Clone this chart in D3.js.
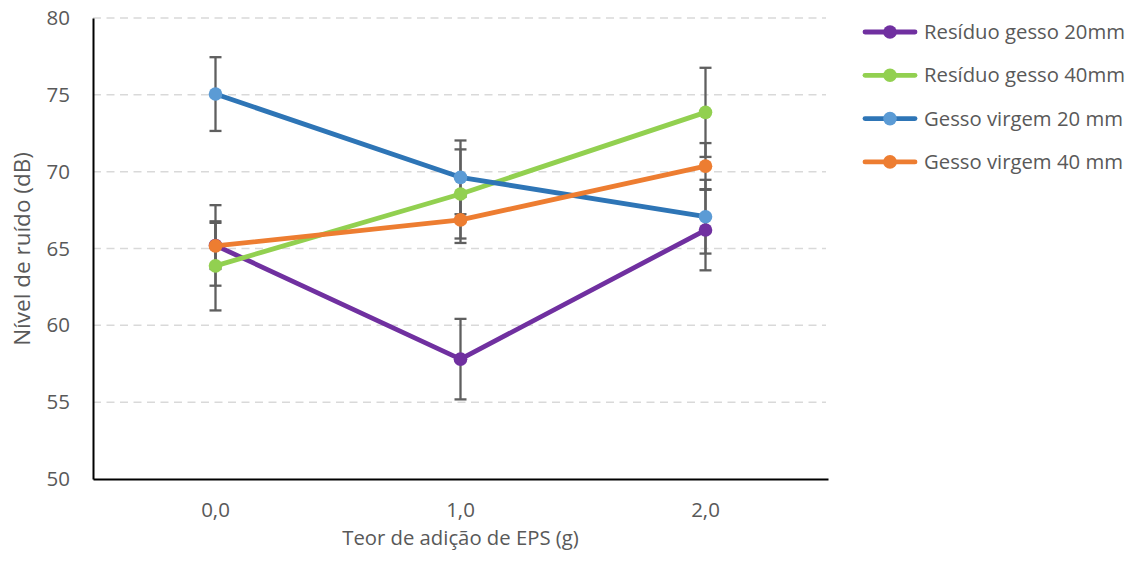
<!DOCTYPE html>
<html>
<head>
<meta charset="utf-8">
<script src="https://cdn.jsdelivr.net/npm/d3@7/dist/d3.min.js"></script>
<style>
  body { margin: 0; background: #fff; }
  svg text { font-family: "Open Sans", "Noto Sans", sans-serif; }
</style>
</head>
<body>
<div id="chart"></div>
<script>
// categories (x) and y ticks
var categories = ["0,0", "1,0", "2,0"];
var yTicks = [50, 55, 60, 65, 70, 75, 80];

// series values
var names = ["Resíduo gesso 20mm", "Resíduo gesso 40mm", "Gesso virgem 20 mm", "Gesso virgem 40 mm"];
var residuo20 = [65.2, 57.8, 66.2];
var residuo40 = [63.87, 68.55, 73.86];
var virgem20 = [75.05, 69.63, 67.07];
var virgem40 = [65.17, 66.86, 70.36];
// error bar sizes (+/-) per series
var errors = [2.62, 2.9, 2.4, 1.5];

var lineColors = ["#7030a0", "#92d050", "#2e75b6", "#ed7d31"];
var markColors = ["#7030a0", "#92d050", "#5b9bd5", "#ed7d31"];

var series = [residuo20, residuo40, virgem20, virgem40].map(function(v, i) {
  return { name: names[i], values: v, err: errors[i], line: lineColors[i], mark: markColors[i] };
});

var W = 1136, H = 565;
var margin = { top: 18, left: 93, right: 308, bottom: 86 };
var width = W - margin.left - margin.right,
    height = H - margin.top - margin.bottom;

var svg = d3.select("#chart").append("svg")
    .attr("width", W)
    .attr("height", H);
var g = svg.append("g")
    .attr("transform", "translate(" + margin.left + "," + margin.top + ")");

var x = d3.scaleBand().domain(categories).range([0, width]).padding(0);
var y = d3.scaleLinear().domain([50, 80]).range([height, 0]);
var cx = function(i) { return x(categories[i]) + x.bandwidth() / 2; };

// dashed gridlines
g.selectAll(".grid")
    .data(yTicks.slice(1))
  .enter().append("line")
    .attr("x1", 0).attr("x2", width - 2)
    .attr("y1", d => y(d)).attr("y2", d => y(d))
    .attr("stroke", "#d9d9d9")
    .attr("stroke-width", 1.5)
    .attr("stroke-dasharray", "8,5.5");

// axes
var yAxis = g.append("g").call(d3.axisLeft(y).tickValues(yTicks).tickSize(0).tickPadding(23));
yAxis.select(".domain").attr("stroke", "#000").attr("stroke-width", 2);
yAxis.selectAll("text")
    .attr("fill", "#595959")
    .style("font-size", "20.5px");

var xAxis = g.append("g")
    .attr("transform", "translate(0," + height + ")")
    .call(d3.axisBottom(x).tickSize(0));
xAxis.select(".domain").attr("stroke", "#000").attr("stroke-width", 2);
xAxis.selectAll("text")
    .attr("fill", "#595959")
    .attr("y", 38)
    .attr("dy", 0)
    .style("font-size", "20.5px");
yAxis.attr("font-family", null);
xAxis.attr("font-family", null);

// error bars
var capW = 6;
series.forEach(function(s) {
  var eb = g.append("g").attr("stroke", "#5f5f5f").attr("stroke-width", 2.3);
  s.values.forEach(function(v, i) {
    var xx = cx(i), top = y(v + s.err), bot = y(v - s.err);
    eb.append("line").attr("x1", xx).attr("x2", xx).attr("y1", top).attr("y2", bot);
    eb.append("line").attr("x1", xx - capW).attr("x2", xx + capW).attr("y1", top).attr("y2", top);
    eb.append("line").attr("x1", xx - capW).attr("x2", xx + capW).attr("y1", bot).attr("y2", bot);
  });
});

// lines and markers
var line = d3.line().x((d, i) => cx(i)).y(d => y(d));
series.forEach(function(s) {
  g.append("path")
      .datum(s.values)
      .attr("d", line)
      .attr("fill", "none")
      .attr("stroke", s.line)
      .attr("stroke-width", 4.8)
      .attr("stroke-linejoin", "round")
      .attr("stroke-linecap", "round");
  g.selectAll(null)
      .data(s.values)
    .enter().append("circle")
      .attr("cx", (d, i) => cx(i))
      .attr("cy", d => y(d))
      .attr("r", 6.8)
      .attr("fill", s.mark);
});

// axis titles
svg.append("text")
    .attr("x", margin.left + width / 2)
    .attr("y", 545)
    .attr("text-anchor", "middle")
    .attr("fill", "#595959")
    .style("font-size", "20.3px")
    .text("Teor de adição de EPS (g)");

svg.append("text")
    .attr("transform", "translate(30,249) rotate(-90)")
    .attr("text-anchor", "middle")
    .attr("fill", "#595959")
    .style("font-size", "22.5px")
    .text("Nível de ruído (dB)");

// legend
var legend = svg.append("g").attr("transform", "translate(863,32)");
var item = legend.selectAll(".item")
    .data(series)
  .enter().append("g")
    .attr("transform", (d, i) => "translate(0," + i * 43.3 + ")");
item.append("line")
    .attr("x1", 2).attr("x2", 52)
    .attr("stroke", d => d.line)
    .attr("stroke-width", 4.8)
    .attr("stroke-linecap", "round");
item.append("circle")
    .attr("cx", 27).attr("r", 6.8)
    .attr("fill", d => d.mark);
item.append("text")
    .attr("x", 61)
    .attr("dy", "0.35em")
    .attr("fill", "#595959")
    .style("font-size", "20.3px")
    .text(d => d.name);
</script>
</body>
</html>
